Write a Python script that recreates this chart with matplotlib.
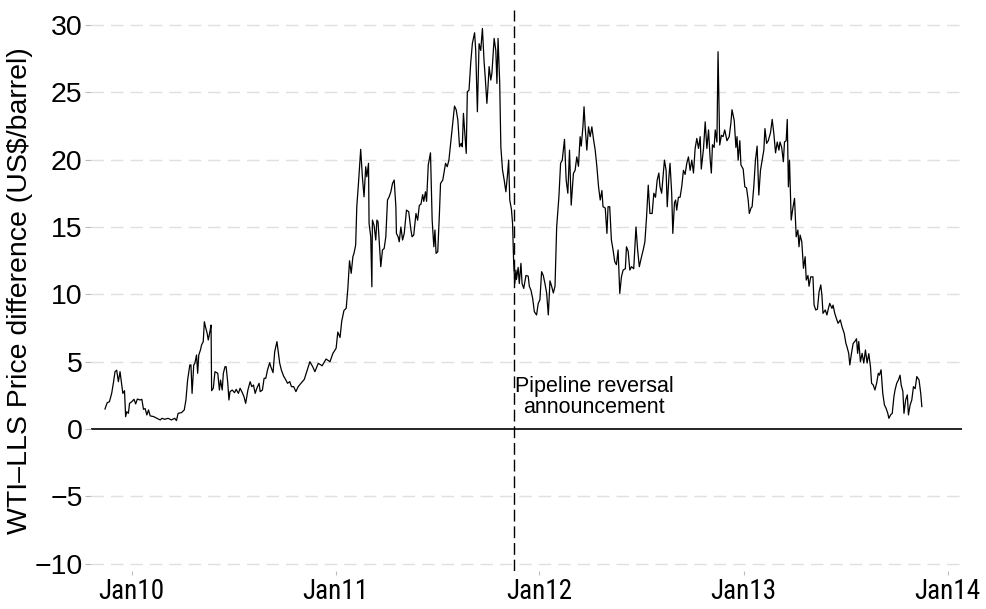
import numpy as np
import pandas as pd
import matplotlib
matplotlib.use("Agg")
import matplotlib.pyplot as plt
import matplotlib.dates as mdates
from matplotlib import font_manager

plt.rcParams['font.family'] = ['Liberation Sans', 'DejaVu Sans']

# WTI-LLS spread, days counted from the first observation
start = "2009-11-14"
day = [0, 4, 8, 12, 15, 18, 21, 24, 27, 32, 35, 37, 39, 42, 44, 48, 52, 55, 58, 63,
       66, 69, 72, 75, 78, 81, 87, 93, 99, 102, 107, 113, 119, 125, 128, 131, 137, 142, 145, 148,
       152, 154, 156, 159, 161, 164, 166, 168, 171, 173, 176, 178, 180, 183, 185, 188, 190, 191, 194, 197,
       202, 205, 207, 210, 212, 215, 217, 220, 222, 224, 228, 232, 235, 239, 242, 246, 249, 252, 256, 260,
       263, 266, 269, 272, 276, 278, 282, 285, 288, 291, 295, 297, 301, 304, 308, 310, 313, 316, 320, 324,
       327, 331, 334, 338, 342, 346, 352, 357, 367, 372, 376, 382, 389, 396, 403, 408, 414, 417, 421, 424,
       428, 432, 435, 438, 441, 444, 446, 449, 451, 454, 458, 461, 464, 467, 469, 472, 473, 476, 478, 479,
       482, 485, 487, 489, 491, 494, 497, 500, 503, 506, 509, 512, 515, 518, 521, 522, 525, 527, 530, 533,
       536, 540, 544, 548, 550, 553, 557, 560, 563, 566, 569, 571, 574, 576, 579, 583, 586, 589, 591, 593,
       596, 599, 601, 605, 608, 610, 613, 616, 621, 624, 626, 629, 632, 635, 638, 640, 642, 644, 647, 649,
       652, 655, 658, 662, 664, 667, 670, 673, 676, 679, 681, 684, 686, 688, 691, 693, 697, 700, 702, 704,
       707, 709, 712, 715, 718, 721, 723, 725, 728, 730, 732, 734, 736, 737, 740, 742, 745, 747, 750, 754,
       758, 760, 763, 766, 769, 773, 776, 779, 782, 785, 788, 791, 794, 797, 800, 803, 806, 809, 813, 816,
       819, 823, 826, 829, 832, 835, 839, 842, 845, 848, 851, 853, 856, 858, 860, 863, 866, 869, 872, 875,
       878, 881, 884, 887, 890, 892, 896, 899, 901, 904, 907, 910, 913, 916, 919, 922, 925, 928, 932, 934,
       937, 940, 943, 947, 951, 954, 957, 961, 964, 967, 970, 973, 976, 980, 983, 986, 989, 992, 994, 997,
       1000, 1002, 1005, 1007, 1010, 1012, 1015, 1017, 1020, 1022, 1024, 1027, 1030, 1033, 1036, 1039, 1042, 1045, 1048, 1051,
       1054, 1057, 1060, 1063, 1066, 1068, 1072, 1075, 1078, 1081, 1084, 1086, 1088, 1091, 1093, 1096, 1098, 1101, 1104, 1107,
       1110, 1114, 1118, 1121, 1123, 1127, 1130, 1132, 1134, 1137, 1139, 1143, 1146, 1149, 1152, 1154, 1157, 1159, 1162, 1165,
       1168, 1171, 1174, 1177, 1180, 1182, 1185, 1188, 1192, 1195, 1198, 1201, 1204, 1207, 1209, 1212, 1215, 1217, 1220, 1222,
       1224, 1226, 1229, 1232, 1235, 1238, 1241, 1243, 1245, 1248, 1251, 1254, 1256, 1259, 1261, 1264, 1268, 1270, 1273, 1276,
       1279, 1282, 1284, 1286, 1290, 1293, 1295, 1298, 1302, 1304, 1307, 1310, 1313, 1317, 1320, 1324, 1327, 1329, 1332, 1334,
       1337, 1340, 1343, 1346, 1348, 1350, 1353, 1356, 1359, 1362, 1365, 1368, 1371, 1373, 1376, 1379, 1382, 1385, 1387, 1390,
       1393, 1396, 1399, 1402, 1404, 1407, 1410, 1413, 1415, 1418, 1421, 1424, 1426, 1429, 1431, 1434, 1437, 1439, 1442, 1445,
       1448, 1451, 1454, 1458, 1461, 1463]
spread = [1.49, 1.96, 2.03, 2.65, 3.40, 4.26, 4.37, 3.52, 4.26, 2.65, 2.85, 0.92, 1.29, 1.17, 1.91, 2.03, 2.21, 1.87, 2.23, 2.16,
          2.21, 1.47, 1.52, 1.05, 1.42, 0.98, 0.93, 0.80, 0.68, 0.80, 0.73, 0.80, 0.68, 0.80, 0.63, 1.17, 1.22, 1.42, 2.16, 3.64,
          4.76, 4.76, 2.65, 4.76, 4.88, 5.50, 4.14, 5.50, 5.87, 6.24, 6.49, 7.97, 7.60, 7.11, 6.61, 7.24, 7.72, 2.85, 3.03, 4.26,
          4.14, 2.90, 3.64, 2.90, 4.14, 4.63, 4.63, 3.40, 2.16, 2.78, 2.90, 2.70, 2.95, 2.65, 3.03, 2.70, 2.40, 1.91, 2.90, 3.52,
          3.15, 3.27, 2.65, 3.03, 3.40, 2.78, 2.90, 3.77, 3.77, 4.37, 4.93, 4.63, 4.19, 5.74, 6.49, 5.87, 4.88, 4.37, 3.93, 3.64,
          3.40, 3.52, 3.15, 3.15, 2.78, 3.15, 3.45, 3.69, 5.00, 4.63, 4.26, 4.88, 4.70, 5.20, 5.00, 5.60, 6.00, 7.20, 6.80, 8.00,
          8.80, 8.96, 10.44, 12.49, 11.56, 12.79, 13.04, 13.66, 16.50, 18.23, 20.76, 18.72, 17.24, 19.47, 18.72, 19.72, 15.27, 14.27, 10.56, 15.51,
          15.10, 14.03, 15.51, 15.40, 14.03, 12.05, 13.29, 13.40, 14.27, 17.00, 17.24, 17.61, 18.23, 18.48, 16.50, 14.52, 14.27, 13.90, 15.00, 14.03,
          14.52, 16.25, 16.13, 14.77, 14.27, 14.40, 16.00, 15.50, 16.60, 16.70, 17.40, 16.90, 17.61, 16.90, 19.60, 20.50, 15.50, 13.53, 14.77, 13.04,
          13.16, 16.00, 18.23, 18.48, 19.22, 19.72, 19.47, 19.96, 21.94, 23.18, 23.97, 23.70, 22.93, 20.95, 21.20, 20.95, 23.43, 22.20, 20.46, 25.03,
          25.15, 27.14, 28.62, 29.41, 28.10, 23.55, 28.60, 28.10, 29.73, 27.26, 26.14, 24.17, 25.40, 26.90, 25.90, 26.40, 28.99, 28.10, 25.65, 28.99,
          25.65, 20.95, 19.22, 18.48, 17.61, 18.90, 19.96, 17.00, 16.30, 15.27, 12.30, 10.82, 11.80, 11.10, 12.00, 10.80, 12.30, 10.80, 10.44, 11.40,
          11.35, 10.60, 10.30, 9.70, 8.71, 8.47, 9.33, 9.60, 11.68, 11.40, 10.80, 10.10, 8.47, 11.00, 10.60, 10.10, 10.60, 15.00, 17.24, 19.72,
          19.96, 21.50, 18.48, 17.50, 20.70, 16.62, 18.98, 19.20, 20.20, 19.50, 21.70, 21.00, 22.43, 23.92, 22.43, 20.70, 22.43, 21.70, 22.43, 21.50,
          20.70, 19.47, 17.98, 17.00, 17.70, 16.50, 16.40, 14.52, 16.50, 16.50, 14.03, 13.29, 12.42, 12.20, 13.29, 10.07, 11.30, 11.80, 11.90, 13.53,
          13.20, 11.80, 12.05, 11.90, 15.00, 13.30, 12.05, 12.80, 13.30, 13.90, 15.76, 18.10, 16.00, 16.00, 17.50, 17.20, 18.48, 19.00, 18.00, 17.50,
          19.00, 19.96, 19.20, 16.50, 18.70, 19.72, 17.50, 14.52, 16.80, 17.00, 16.25, 17.20, 17.20, 18.00, 19.20, 18.90, 19.72, 20.20, 19.20, 19.96,
          19.00, 20.83, 21.57, 20.83, 21.70, 19.30, 20.83, 22.80, 20.83, 22.20, 19.96, 19.00, 21.10, 20.90, 22.20, 21.30, 28.00, 21.08, 21.80, 21.70,
          22.20, 21.40, 21.70, 22.70, 23.70, 22.90, 20.90, 21.70, 19.96, 21.40, 19.60, 19.30, 17.98, 17.90, 17.00, 16.00, 16.40, 16.50, 17.98, 19.96,
          21.00, 17.37, 19.20, 19.96, 20.70, 22.30, 21.20, 21.40, 22.00, 22.98, 21.90, 20.50, 21.30, 20.70, 21.30, 20.90, 19.84, 21.30, 21.40, 22.98,
          17.98, 19.96, 15.51, 16.40, 17.12, 14.27, 14.77, 13.53, 14.40, 13.90, 11.93, 12.79, 11.06, 11.40, 10.60, 11.30, 11.30, 9.21, 8.84, 8.90,
          10.20, 10.70, 9.95, 8.59, 8.84, 8.47, 8.84, 9.33, 8.96, 9.20, 8.60, 8.20, 7.85, 8.10, 7.60, 7.10, 6.36, 6.10, 5.62, 4.76,
          5.62, 6.36, 6.50, 6.70, 5.62, 6.50, 5.00, 5.62, 4.90, 5.87, 4.90, 5.60, 4.63, 3.40, 3.27, 2.90, 3.40, 4.14, 4.00, 4.40,
          2.66, 1.79, 1.54, 1.17, 0.80, 1.05, 1.17, 2.41, 2.90, 3.40, 3.64, 4.00, 3.27, 2.80, 1.17, 2.16, 2.54, 1.05, 1.79, 2.16,
          3.15, 3.00, 3.90, 3.64, 2.66, 1.67]

event_date = "2011-11-16"
event_label = "Pipeline reversal\nannouncement"
y_ticks = [-10, -5, 0, 5, 10, 15, 20, 25, 30]

dates = pd.to_datetime(start) + pd.to_timedelta(day, unit="D")


def first_font(names):
    # first family from the list that is really installed
    for name in names:
        try:
            font_manager.findfont(name, fallback_to_default=False)
            return name
        except ValueError:
            continue
    return "Liberation Sans"


date_font = first_font(["Liberation Sans Narrow", "DejaVu Sans Condensed",
                        "Roboto Condensed", "Open Sans Condensed"])

fig = plt.figure(figsize=(9.86, 6.09), dpi=100)
ax = fig.add_axes([0.0923, 0.0624, 0.8834, 0.9212])

for y in y_ticks:
    if y != 0:
        ax.axhline(y, color="#e0e0e0", lw=1.0, ls=(0, (9, 5)), zorder=0)
ax.axhline(0, color="black", lw=1.2, zorder=1)

ax.plot(dates, spread, color="black", lw=0.9, zorder=3)

ev = pd.to_datetime(event_date)
ax.axvline(ev, color="black", lw=1.0, ls=(0, (8.5, 3.5)), zorder=2)
ax.annotate(event_label, xy=(ev, 2.4), xytext=(58, 0), textcoords="offset points",
            ha="center", va="center", fontsize=15.5, linespacing=1.0)

ax.set_xlim(pd.to_datetime("2009-10-20"), pd.to_datetime("2014-01-27"))
ax.set_ylim(-10.53, 31.1)
ax.set_yticks(y_ticks)

ax.xaxis.set_major_locator(mdates.YearLocator())
ax.xaxis.set_major_formatter(mdates.DateFormatter("%b%y"))

for s in ax.spines.values():
    s.set_visible(False)

ax.tick_params(axis="y", length=4, width=0.8, color="#bbbbbb", labelsize=20.5, pad=2)
ax.tick_params(axis="x", length=3, width=0.8, color="#bbbbbb", labelsize=19.5, pad=2)
for lab in ax.get_xticklabels():
    lab.set_family([date_font, "Liberation Sans"])

ax.set_ylabel("WTI–LLS Price difference (US\\$/barrel)", fontsize=20.5, labelpad=1)

fig.savefig("out.png", dpi=100)
